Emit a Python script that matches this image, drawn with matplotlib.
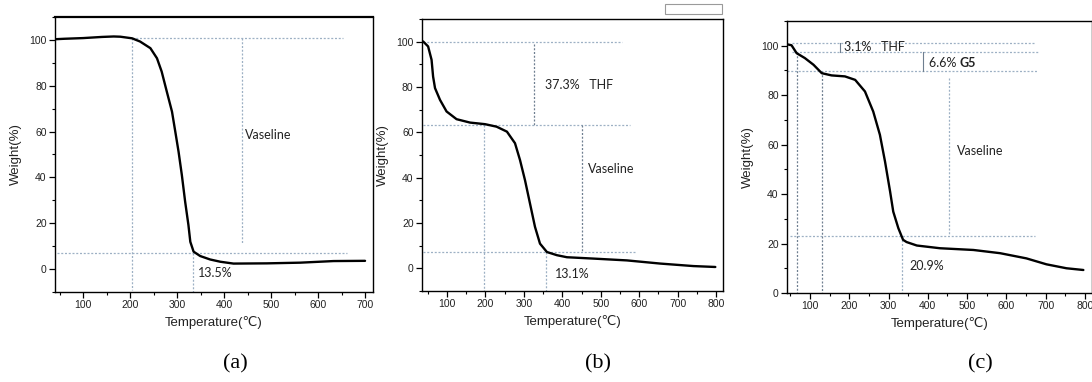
import matplotlib
matplotlib.use("Agg")
import matplotlib.pyplot as plt
from matplotlib.ticker import MultipleLocator
from matplotlib.patches import Rectangle

# ---------------- data ----------------
a_T = [40, 60, 100, 140, 165, 179, 204, 221, 243, 257, 267, 278, 289, 296, 303, 310, 317,
       324, 328, 335, 349, 370, 392, 420, 491, 562, 633, 700]
a_W = [100.3, 100.5, 100.8, 101.3, 101.5, 101.4, 100.7, 99.3, 96.4, 92.0, 86.2, 77.4, 68.7,
       60.0, 51.2, 41.0, 29.4, 19.2, 11.9, 7.6, 5.7, 4.2, 3.2, 2.4, 2.5, 2.8, 3.5, 3.6]

b_T = [38, 51, 60, 64, 69, 82, 99, 125, 160, 199, 229, 256, 277, 290, 303, 316, 329, 342,
       360, 386, 412, 481, 568, 655, 741, 798]
b_W = [100.1, 97.9, 92.0, 84.6, 79.5, 74.3, 69.2, 65.8, 64.3, 63.6, 62.5, 60.3, 55.2, 47.8,
       38.9, 28.6, 18.3, 10.9, 7.2, 5.8, 4.9, 4.3, 3.5, 2.1, 1.0, 0.6]

c_T = [41, 53, 66, 87, 109, 130, 155, 189, 215, 240, 261, 278, 291, 304, 312, 325, 337, 346,
       372, 431, 516, 584, 651, 702, 753, 796]
c_W = [100.6, 100.2, 97.0, 95.0, 92.3, 88.9, 88.0, 87.6, 86.2, 81.5, 73.4, 64.0, 53.2, 41.0,
       32.9, 26.2, 21.5, 20.6, 19.2, 18.1, 17.4, 16.1, 14.0, 11.6, 10.0, 9.3]

a_xlim, a_ylim = (40, 717), (-10, 110)
b_xlim, b_ylim = (35, 818), (-10, 110)
c_xlim, c_ylim = (41.5, 818), (0, 110)
x_ticks_a = [100, 200, 300, 400, 500, 600, 700]
x_ticks_bc = [100, 200, 300, 400, 500, 600, 700, 800]
y_ticks_ab = [0, 20, 40, 60, 80, 100]
y_ticks_c = [0, 20, 40, 60, 80, 100]

captions = ["(a)", "(b)", "(c)"]
xlabel = "Temperature(\u2103)"
ylabel = "Weight(%)"

# ---------------- style ----------------
TICKFONT = "Liberation Sans"
ANNFONT = "Lato"
GUIDE = "#9db0c4"
GUIDE_DARK = "#6f7f90"
DOT = (0, (1.6, 1.4))

fig = plt.figure(figsize=(10.92, 3.82), dpi=100)

def make_ax(rect, xlim, ylim, xt, yt):
    ax = fig.add_axes(rect)
    ax.set_xlim(*xlim)
    ax.set_ylim(*ylim)
    ax.set_xticks(xt)
    ax.set_yticks(yt)
    ax.xaxis.set_minor_locator(MultipleLocator(50))
    ax.yaxis.set_minor_locator(MultipleLocator(10))
    ax.tick_params(which="major", direction="out", length=4, width=0.9,
                   labelsize=7.5, pad=2)
    ax.tick_params(which="minor", direction="out", length=2, width=0.8)
    ax.tick_params(axis="y", which="both", right=False)
    ax.tick_params(axis="x", which="both", top=False)
    for lab in ax.get_xticklabels() + ax.get_yticklabels():
        lab.set_fontfamily(TICKFONT)
        lab.set_color("#222222")
    for s in ax.spines.values():
        s.set_linewidth(1.0)
    ax.set_xlabel(xlabel, fontsize=9.5, family=[TICKFONT, "DejaVu Sans"], labelpad=4,
                  color="#222222")
    ax.set_ylabel(ylabel, fontsize=9.5, family=TICKFONT, labelpad=5, color="#222222")
    return ax

def guide(ax, xs, ys, color=GUIDE, lw=0.9):
    ax.plot(xs, ys, color=color, lw=lw, linestyle=DOT, zorder=1)

def note(ax, x, y, s, **kw):
    ax.text(x, y, s, fontsize=9, family=ANNFONT, color="#222222", va="center",
            ha="left", **kw)

def curve(ax, xs, ys):
    ax.plot(xs, ys, color="black", lw=1.7, zorder=3, solid_joinstyle="round",
            solid_capstyle="round")

# ---- (a) ----
axa = make_ax([0.0504, 0.2356, 0.2912, 0.7199], a_xlim, a_ylim, x_ticks_a, y_ticks_ab)
axa.spines["top"].set_linewidth(1.6)
guide(axa, [204, 654], [101, 101])
guide(axa, [204, 204], [101, -9])
guide(axa, [44, 661], [7.1, 7.1])
guide(axa, [437.6, 437.6], [101, 11.5])
guide(axa, [333, 333], [7.1, -10])
curve(axa, a_T, a_W)
note(axa, 444.7, 58.5, "Vaseline")
note(axa, 345, -1.7, "13.5%")

# ---- (b) ----
axb = make_ax([0.3864, 0.2382, 0.2757, 0.7121], b_xlim, b_ylim, x_ticks_bc, y_ticks_ab)
guide(axb, [38, 555], [100, 100])
guide(axb, [38, 577], [63.3, 63.3])
guide(axb, [38, 590], [7.2, 7.2])
guide(axb, [327, 327], [99, 63.3], color=GUIDE_DARK)
guide(axb, [451, 451], [63.3, 7.2], color=GUIDE_DARK)
guide(axb, [197, 197], [63.3, -10])
guide(axb, [357, 357], [7.2, -10])
curve(axb, b_T, b_W)
note(axb, 355, 81, "37.3%   THF")
note(axb, 466, 43.7, "Vaseline")
note(axb, 381, -2.7, "13.1%")

# ---- (c) ----
axc = make_ax([0.7207, 0.2330, 0.2793, 0.7120], c_xlim, c_ylim, x_ticks_bc, y_ticks_c)
guide(axc, [55, 672], [101.3, 101.3])
guide(axc, [55, 680], [97.4, 97.4])
guide(axc, [41.5, 680], [89.6, 89.6])
guide(axc, [50, 672], [23.1, 23.1])
guide(axc, [66, 66], [97.4, 0], color=GUIDE_DARK)
guide(axc, [130, 130], [89.6, 0], color=GUIDE_DARK)
guide(axc, [333, 333], [23.1, 0])
axc.plot([176, 176], [101.3, 97.6], color=GUIDE_DARK, lw=0.8)
axc.plot([387, 387], [97.4, 89.8], color=GUIDE_DARK, lw=0.8)
guide(axc, [453, 453], [87, 24])
curve(axc, c_T, c_W)
note(axc, 186, 99.3, "3.1%   THF")
tg = axc.text(403, 93, "6.6% ", fontsize=9, family=ANNFONT, color="#222222",
              va="center", ha="left")
axc.annotate("G5", xycoords=tg, xy=(1, 0.5), va="center", ha="left",
             fontsize=9, family=ANNFONT, weight="bold", color="#222222")
note(axc, 473, 57.6, "Vaseline")
note(axc, 354, 10.9, "20.9%")

# small cropped legend box at top right of (b)
fig.patches.append(Rectangle((665 / 1092, 1 - 14 / 382), 57 / 1092, 10 / 382,
                             transform=fig.transFigure, fill=False,
                             edgecolor="#9a9a9a", lw=0.8))

# captions
for xc, cap in zip([235 / 1092, 598 / 1092, 980 / 1092], captions):
    fig.text(xc, 1 - 364 / 382, cap, ha="center", va="center", fontsize=16,
             family="Liberation Serif")

fig.savefig("out.png", dpi=100)
